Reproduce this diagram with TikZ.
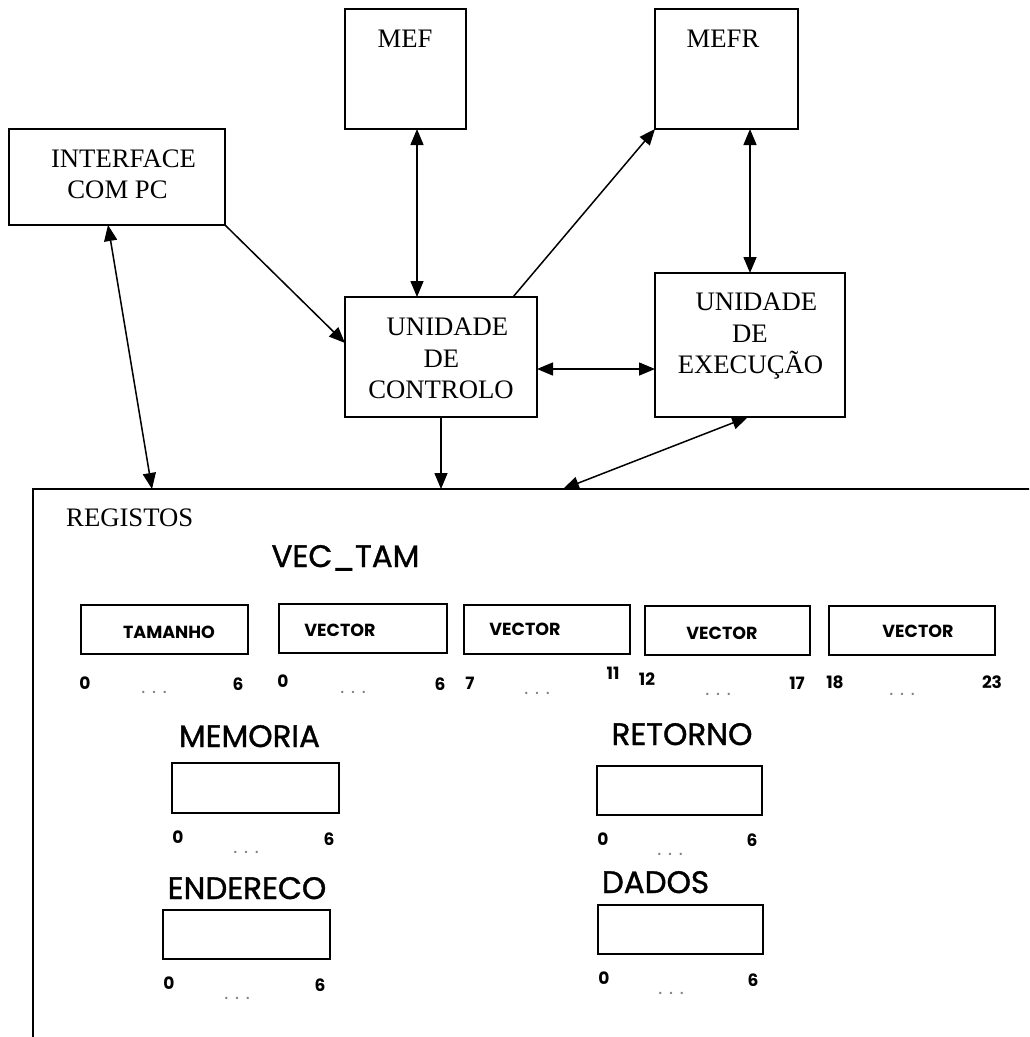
\documentclass[tikz,border=0pt]{standalone}
\usepackage{fontspec}
\setmainfont{Liberation Serif}
\newfontfamily\comic{Poppins}
\newfontfamily\comichead{Poppins}[FakeBold=1.2]
\usetikzlibrary{arrows.meta}

\tikzset{
  box/.style={draw, line width=1.6pt, inner sep=0pt, outer sep=0pt},
  regbox/.style={draw, line width=1.2pt, inner sep=0pt, outer sep=0pt},
  lbl/.style={font=\fontsize{26.7}{32}\selectfont, inner sep=0pt, anchor=base},
  head/.style={font=\comichead\fontsize{31}{36}\selectfont, inner sep=0pt, anchor=base},
  fld/.style={font=\comic\bfseries\fontsize{17.5}{19}\selectfont, inner sep=0pt},
  idx/.style={font=\comic\bfseries\fontsize{17}{19}\selectfont, inner sep=0pt},
  dots/.style={font=\comic\fontsize{19}{21}\selectfont, text=gray, inner sep=0pt},
  tip/.tip={Triangle[length=16pt,width=13pt]},
  conn/.style={line width=1.5pt, -tip},
  both/.style={line width=1.5pt, tip-tip},
}

\begin{document}
\begin{tikzpicture}[x=1pt,y=-1pt]
\useasboundingbox (0,0) rectangle (1029,1037);
\clip (0,0) rectangle (1029,1037);

% main blocks
\node[box, minimum width=216pt, minimum height=96pt]  (iface) at (117,177) {};
\node[box, minimum width=121pt, minimum height=120pt] (mef)   at (405.5,69) {};
\node[box, minimum width=143pt, minimum height=120pt] (mefr)  at (726.5,69) {};
\node[box, minimum width=192pt, minimum height=120pt] (ctrl)  at (441,357) {};
\node[box, minimum width=190pt, minimum height=144pt] (exec)  at (750,345) {};
% register file (runs off the page to the right and bottom)
\node[box, minimum width=1067pt, minimum height=611pt] (reg) at (566.5,794.5) {};

% block captions
\node[lbl] (mef-t)    at (405,47)    {MEF};
\node[lbl] (mefr-t)   at (723,47)    {MEFR};
\node[lbl] (iface-t1) at (123.5,167) {INTERFACE};
\node[lbl] (iface-t2) at (117.5,198) {COM PC};
\node[lbl] (ctrl-t1)  at (447.5,335) {UNIDADE};
\node[lbl] (ctrl-t2)  at (441.5,367) {DE};
\node[lbl] (ctrl-t3)  at (441,398)   {CONTROLO};
\node[lbl] (exec-t1)  at (756.5,310) {UNIDADE};
\node[lbl] (exec-t2)  at (750,342)   {DE};
\node[lbl] (exec-t3)  at (750.5,373) {EXECUÇÃO};
\node[lbl, anchor=base west] (reg-t) at (66,526) {REGISTOS};

% connections
\draw[both] ([xshift=-9pt]iface.south) -- ([xshift=119pt]reg.north west);
\draw[conn] (iface.south east) -- ([yshift=14pt]ctrl.west);
\draw[both] ([xshift=11.5pt]mef.south) -- ([xshift=11.5pt]mef.south |- ctrl.north);
\draw[conn] (ctrl.south) -- (ctrl.south |- reg.north);
\draw[conn] ([xshift=72pt]ctrl.north) -- (mefr.south west);
\draw[both] (exec.north |- mefr.south) -- (exec.north);
\draw[both] ([yshift=-12pt]ctrl.east) -- ([yshift=-12pt]ctrl.east -| exec.west);
\draw[both] ([xshift=-2pt]exec.south) -- ([xshift=530pt]reg.north west);

% VEC_TAM register
\node[head] (vt) at (345.5,567) {VEC\_TAM};
\node[regbox, minimum width=167pt, minimum height=49pt] (f1) at (164.5,629.5) {};
\node[regbox, minimum width=168pt, minimum height=49pt] (f2) at (363,628.5) {};
\node[regbox, minimum width=166pt, minimum height=49pt] (f3) at (547,629.5) {};
\node[regbox, minimum width=165pt, minimum height=49pt] (f4) at (727.5,630.5) {};
\node[regbox, minimum width=166pt, minimum height=49pt] (f5) at (912,630.5) {};
\node[fld] (f1-t) at (169,632) {TAMANHO};
\node[fld] (f2-t) at (340,630) {VECTOR};
\node[fld] (f3-t) at (525,629) {VECTOR};
\node[fld] (f4-t) at (722,633) {VECTOR};
\node[fld] (f5-t) at (918,631) {VECTOR};

\node[idx] (f1-a) at (85,683)  {0};  \node[idx] (f1-b) at (238,684) {6};
\node[dots] (f1-d) at (154,692) {. . .};
\node[idx] (f2-a) at (283,681) {0};  \node[idx] (f2-b) at (440,684) {6};
\node[dots] (f2-d) at (353,692) {. . .};
\node[idx] (f3-a) at (470,683) {7};  \node[idx] (f3-b) at (613,673) {11};
\node[dots] (f3-d) at (537,693) {. . .};
\node[idx] (f4-a) at (647,679) {12}; \node[idx] (f4-b) at (797,683) {17};
\node[dots] (f4-d) at (718,694) {. . .};
\node[idx] (f5-a) at (835,682) {18}; \node[idx] (f5-b) at (992,682) {23};
\node[dots] (f5-d) at (902,694) {. . .};

% MEMORIA register
\node[head] (mem-h) at (249.5,747) {MEMORIA};
\node[regbox, minimum width=167pt, minimum height=50pt] (mem) at (255.5,788) {};
\node[idx] (mem-a) at (178,837) {0}; \node[idx] (mem-b) at (329,839) {6};
\node[dots] (mem-d) at (246,852) {. . .};

% ENDERECO register
\node[head] (end-h) at (247,899) {ENDERECO};
\node[regbox, minimum width=167pt, minimum height=49pt] (end) at (246.5,934.5) {};
\node[idx] (end-a) at (169,983) {0}; \node[idx] (end-b) at (320,985) {6};
\node[dots] (end-d) at (237,998) {. . .};

% RETORNO register
\node[head] (ret-h) at (682,745) {RETORNO};
\node[regbox, minimum width=165pt, minimum height=49pt] (ret) at (679.5,790.5) {};
\node[idx] (ret-a) at (603,839) {0}; \node[idx] (ret-b) at (752,840) {6};
\node[dots] (ret-d) at (670,854) {. . .};

% DADOS register
\node[head] (dad-h) at (655.5,893) {DADOS};
\node[regbox, minimum width=165pt, minimum height=49pt] (dad) at (680.5,929.5) {};
\node[idx] (dad-a) at (604,978) {0}; \node[idx] (dad-b) at (753,980) {6};
\node[dots] (dad-d) at (671,993) {. . .};
\end{tikzpicture}
\end{document}
